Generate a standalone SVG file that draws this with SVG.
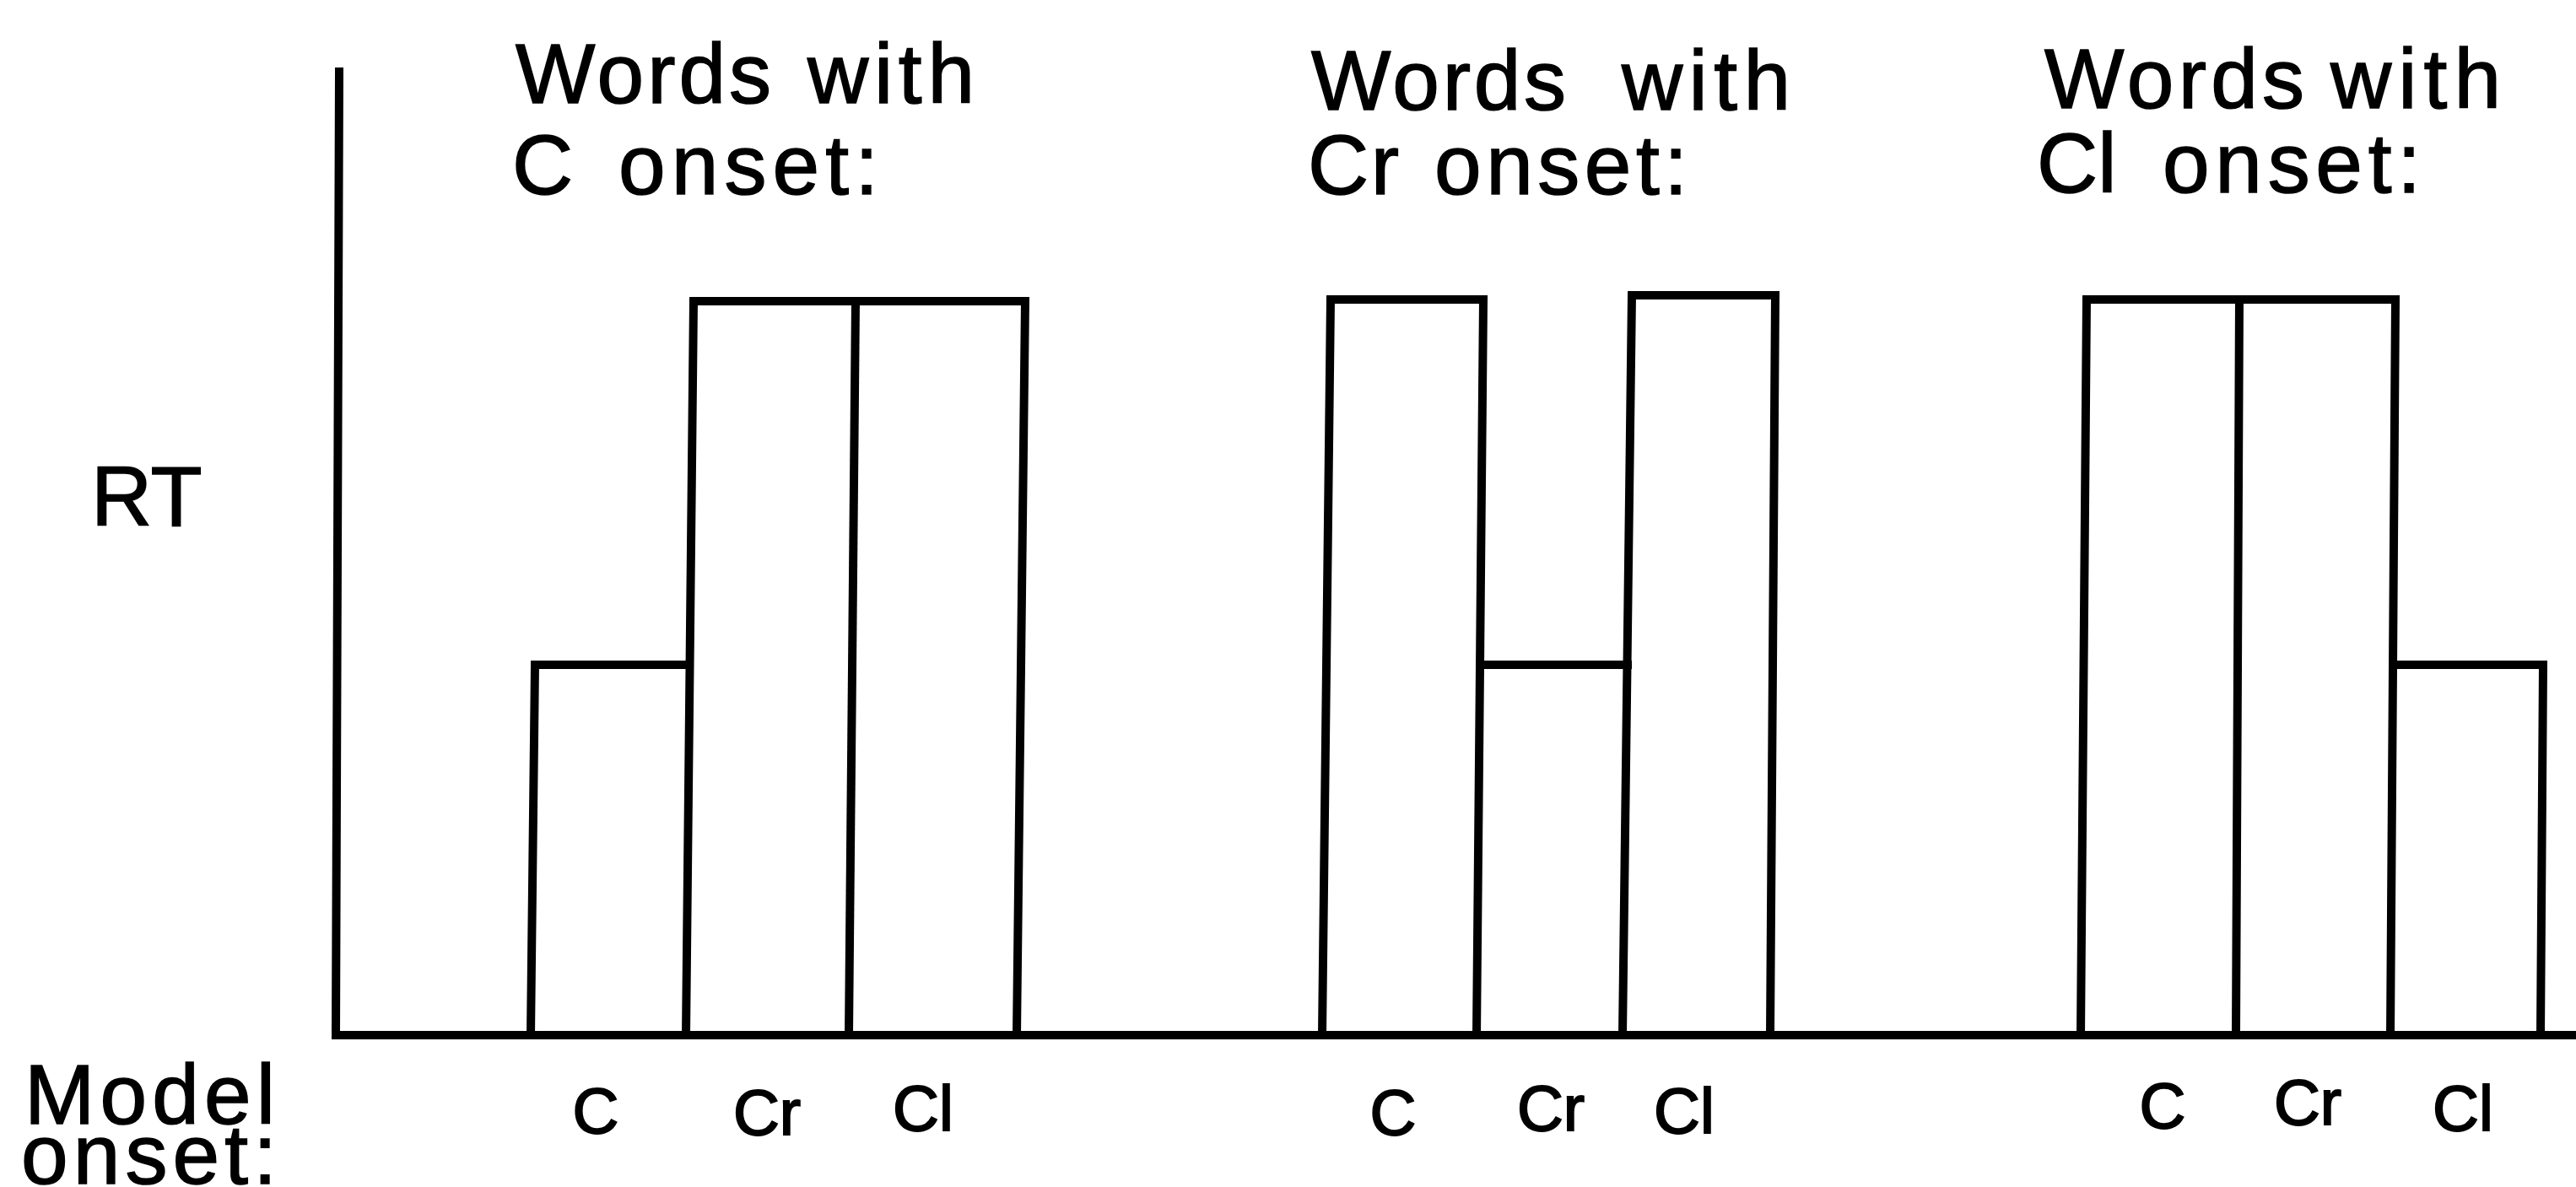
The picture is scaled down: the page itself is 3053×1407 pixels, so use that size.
<svg xmlns="http://www.w3.org/2000/svg" width="3053" height="1407" viewBox="0 0 3053 1407">
<style>
  .ln { fill: none; stroke: #000; stroke-width: 10; stroke-linejoin: miter; stroke-linecap: square; }
  .t { font-family: "Liberation Sans", Arial, Helvetica, sans-serif; font-size: 100px; fill: #000; stroke: #000; stroke-width: 1.5; }
  .lb { font-family: "Liberation Sans", Arial, Helvetica, sans-serif; font-size: 76px; fill: #000; stroke: #000; stroke-width: 2; text-anchor: middle; }
</style>
<rect x="0" y="0" width="3053" height="1407" fill="#fff"/>

<g id="axes">
  <polyline class="ln" points="402,85 398,1227 3053,1227"/>
  <text class="t" x="108" y="623">RT</text>
  <text class="t" x="29" y="1332" textLength="297" lengthAdjust="spacing">Model</text>
  <text class="t" x="25" y="1403" textLength="303" lengthAdjust="spacing">onset:</text>
</g>

<g id="group-c">
  <text class="t" x="611" y="122" textLength="303" lengthAdjust="spacing">Words</text>
  <text class="t" x="957" y="122" textLength="198" lengthAdjust="spacing">with</text>
  <text class="t" x="607" y="230">C</text>
  <text class="t" x="733" y="230" textLength="308" lengthAdjust="spacing">onset:</text>
  <polyline class="ln" points="629,1227 634,788 817,788"/>
  <polyline class="ln" points="813,1227 822,357 1215,357 1205,1227"/>
  <line class="ln" x1="1014" y1="357" x2="1006" y2="1227"/>
  <text class="lb" x="706" y="1343">C</text>
  <text class="lb" x="909" y="1345">Cr</text>
  <text class="lb" x="1094" y="1340">Cl</text>
</g>

<g id="group-cr">
  <text class="t" x="1554" y="130" textLength="302" lengthAdjust="spacing">Words</text>
  <text class="t" x="1922" y="130" textLength="200" lengthAdjust="spacing">with</text>
  <text class="t" x="1550" y="230" textLength="108" lengthAdjust="spacing">Cr</text>
  <text class="t" x="1700" y="230" textLength="300" lengthAdjust="spacing">onset:</text>
  <polyline class="ln" points="1567,1227 1577,355 1758,355 1750,1227"/>
  <line class="ln" x1="1754" y1="788" x2="1929" y2="788"/>
  <polyline class="ln" points="1923,1227 1934,350 2104,350 2098,1227"/>
  <text class="lb" x="1651" y="1345">C</text>
  <text class="lb" x="1838" y="1340">Cr</text>
  <text class="lb" x="1996" y="1343">Cl</text>
</g>

<g id="group-cl">
  <text class="t" x="2423" y="128" textLength="308" lengthAdjust="spacing">Words</text>
  <text class="t" x="2762" y="128" textLength="202" lengthAdjust="spacing">with</text>
  <text class="t" x="2414" y="228">Cl</text>
  <text class="t" x="2563" y="228" textLength="306" lengthAdjust="spacing">onset:</text>
  <polyline class="ln" points="2466,1227 2473,355 2839,355 2833,1227"/>
  <line class="ln" x1="2654" y1="355" x2="2650" y2="1227"/>
  <polyline class="ln" points="2836,788 3014,788 3011,1227"/>
  <text class="lb" x="2563" y="1337">C</text>
  <text class="lb" x="2735" y="1333">Cr</text>
  <text class="lb" x="2919" y="1340">Cl</text>
</g>
</svg>
